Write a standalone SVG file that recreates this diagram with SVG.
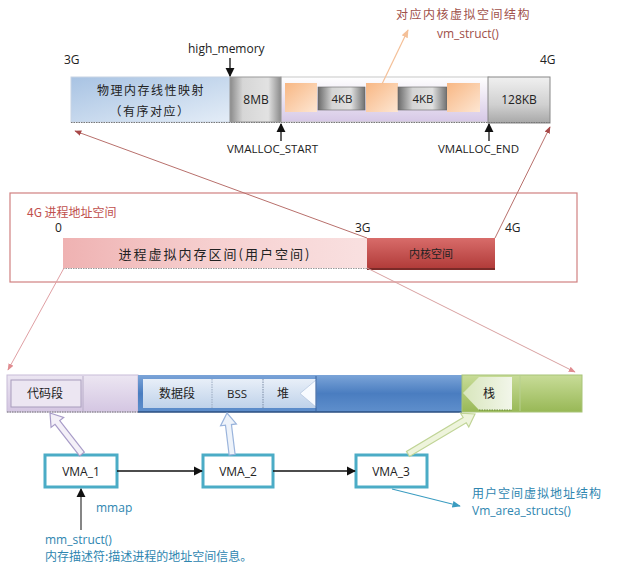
<svg xmlns="http://www.w3.org/2000/svg" width="620" height="579" viewBox="0 0 620 579">
<style>
text{font-family:"Open Sans","Liberation Sans","Noto Sans CJK SC",sans-serif;fill:#222;}
.cn{font-family:"Noto Sans CJK SC","Liberation Sans",sans-serif;}
.s12{font-size:12px;}
.s11{font-size:11.5px;}
.mid{text-anchor:middle;}
.red{fill:#c0504d;}
.brn{fill:#a0504a;}
.teal{fill:#2e86b0;}
.ln{stroke:#b8706c;stroke-width:1;fill:none;}
.blk{stroke:#111;stroke-width:1.3;fill:none;}
.vma rect{fill:#fff;stroke:#4bacc6;stroke-width:3;}
</style>
<defs>
<linearGradient id="gBlue" x1="0" y1="0" x2="1" y2="1"><stop offset="0" stop-color="#a8c3e3"/><stop offset="1" stop-color="#e4edf7"/></linearGradient>
<linearGradient id="gGray" x1="0" y1="0" x2="0" y2="1"><stop offset="0" stop-color="#f0f0f0"/><stop offset="0.6" stop-color="#d0d0d0"/><stop offset="1" stop-color="#a8a8a8"/></linearGradient>
<linearGradient id="gGrayH" x1="0" y1="0" x2="1" y2="0"><stop offset="0" stop-color="#8a8a8a"/><stop offset="0.25" stop-color="#d6d6d6"/><stop offset="0.75" stop-color="#e2e2e2"/><stop offset="1" stop-color="#8a8a8a"/></linearGradient>
<linearGradient id="g4kb" x1="0" y1="0" x2="1" y2="0"><stop offset="0" stop-color="#6a6a6a"/><stop offset="0.3" stop-color="#d4d4d4"/><stop offset="0.7" stop-color="#e0e0e0"/><stop offset="1" stop-color="#707070"/></linearGradient>
<linearGradient id="gLav" x1="0" y1="0" x2="0" y2="1"><stop offset="0" stop-color="#ffffff"/><stop offset="1" stop-color="#d6c8e6"/></linearGradient>
<linearGradient id="gOr" x1="0" y1="0" x2="1" y2="1"><stop offset="0" stop-color="#f8b784"/><stop offset="1" stop-color="#fde6d2"/></linearGradient>
<linearGradient id="gPink" x1="0" y1="0" x2="1" y2="0"><stop offset="0" stop-color="#efb2b2"/><stop offset="0.5" stop-color="#f6d0d0"/><stop offset="1" stop-color="#f9e0e0"/></linearGradient>
<linearGradient id="gKer" x1="0" y1="0" x2="0" y2="1"><stop offset="0" stop-color="#d86c6a"/><stop offset="1" stop-color="#b23c3a"/></linearGradient>
<linearGradient id="gBL" x1="0" y1="0" x2="0" y2="1"><stop offset="0" stop-color="#ece6f2"/><stop offset="1" stop-color="#d4c6e2"/></linearGradient>
<linearGradient id="gBB" x1="0" y1="0" x2="0" y2="1"><stop offset="0" stop-color="#7ba4d8"/><stop offset="0.5" stop-color="#4a7dc0"/><stop offset="1" stop-color="#5f8fcc"/></linearGradient>
<linearGradient id="gBI" x1="0" y1="0" x2="0" y2="1"><stop offset="0" stop-color="#e8eff8"/><stop offset="1" stop-color="#bfd2ea"/></linearGradient>
<linearGradient id="gGr" x1="0" y1="0" x2="0" y2="1"><stop offset="0" stop-color="#c8dc98"/><stop offset="1" stop-color="#98b856"/></linearGradient>
<linearGradient id="gGI" x1="0" y1="0" x2="1" y2="0"><stop offset="0" stop-color="#d8e6bc"/><stop offset="1" stop-color="#f2f6ea"/></linearGradient>
<marker id="mB" viewBox="0 0 10 10" refX="9" refY="5" markerWidth="7" markerHeight="7" orient="auto"><path d="M0,0L10,5L0,10z" fill="#111"/></marker>
<marker id="mR" viewBox="0 0 10 10" refX="9" refY="5" markerWidth="7" markerHeight="7" orient="auto"><path d="M0,1L10,5L0,9z" fill="#a84848"/></marker>
<marker id="mP" viewBox="0 0 10 10" refX="9" refY="5" markerWidth="7" markerHeight="7" orient="auto"><path d="M0,1L10,5L0,9z" fill="#e08c90"/></marker>
<marker id="mO" viewBox="0 0 10 10" refX="9" refY="5" markerWidth="7" markerHeight="7" orient="auto"><path d="M0,1L10,5L0,9z" fill="#f4c098"/></marker>
<marker id="mT" viewBox="0 0 10 10" refX="9" refY="5" markerWidth="7" markerHeight="7" orient="auto"><path d="M0,1L10,5L0,9z" fill="#3a9cc0"/></marker>
<polygon id="hollow" points="0,0 7,11 3,11 3,0 -3,0 -3,11 -7,11"/>
</defs>

<!-- Top physical memory bar -->
<g id="top-bar">
<rect x="281" y="77" width="208" height="45" fill="url(#gLav)" stroke="#c8c8c8"/>
<g id="phys-linear"><rect x="71" y="77" width="159" height="45" fill="url(#gBlue)" stroke="#c8d4e4"/>
<text class="cn s12 mid" x="151" y="95" fill="#444" letter-spacing="1.5">物理内存线性映射</text>
<text class="cn s12 mid" x="150" y="116" letter-spacing="1.5">（有序对应）</text></g>
<g id="gap-8mb"><rect x="230" y="77" width="51" height="45" fill="url(#gGrayH)" stroke="#999"/>
<text class="s12 mid" x="256" y="104">8MB</text></g>
<rect x="285" y="83" width="32" height="29" fill="url(#gOr)"/>
<g id="page1"><rect x="318" y="87" width="47" height="23" fill="url(#g4kb)" stroke="#666" stroke-width="0.6"/><text class="s11 mid" x="342" y="103">4KB</text></g>
<rect x="366" y="83" width="32" height="29" fill="url(#gOr)"/>
<g id="page2"><rect x="398" y="87" width="49" height="23" fill="url(#g4kb)" stroke="#666" stroke-width="0.6"/><text class="s11 mid" x="423" y="103">4KB</text></g>
<rect x="447" y="83" width="33" height="29" fill="url(#gOr)"/>
<g id="gap-128kb"><rect x="488" y="77" width="62" height="46" fill="url(#gGray)" stroke="#888"/>
<text class="s12 mid" x="519" y="104">128KB</text></g>
<line x1="71" y1="122.5" x2="550" y2="122.5" stroke="#777" stroke-dasharray="1.5,1"/>
<text class="s12" x="64" y="64">3G</text>
<text class="s12" x="540" y="64">4G</text>
<text class="s12" x="188" y="53">high_memory</text>
<text class="s11" x="227" y="153">VMALLOC_START</text>
<text class="s11" x="438" y="153">VMALLOC_END</text>
<text class="cn s12 brn" x="396" y="19" letter-spacing="1.5">对应内核虚拟空间结构</text>
<text class="s12 brn" x="437" y="38">vm_struct()</text>
</g>

<!-- Middle process address space -->
<g id="proc-space">
<rect x="10" y="193" width="567" height="89" fill="none" stroke="#d08080" stroke-width="1.2"/>
<text class="cn s12 red" x="27" y="217">4G 进程地址空间</text>
<text class="s12" x="55" y="232">0</text>
<text class="s12" x="355" y="232">3G</text>
<text class="s12" x="505" y="232">4G</text>
<g id="user-space"><rect x="63" y="238" width="304" height="30" fill="url(#gPink)"/>
<line x1="63" y1="268.5" x2="367" y2="268.5" stroke="#999" stroke-dasharray="1.5,1"/>
<text class="cn mid" x="215" y="259" font-size="13" fill="#a04848" letter-spacing="2">进程虚拟内存区间(用户空间)</text></g>
<g id="kernel-space"><rect x="367" y="238" width="128" height="30" fill="url(#gKer)"/>
<line x1="367" y1="269" x2="495" y2="269" stroke="#7a2a28" stroke-width="2"/>
<text class="cn mid" x="431" y="258" font-size="11" fill="#f6dada">内核空间</text></g>
</g>

<!-- Bottom user space layout -->
<g id="vma-bar">
<rect x="7" y="375" width="131" height="37" fill="url(#gBL)" stroke="#c8bcd8"/>
<g id="code"><rect x="11" y="380" width="70" height="27" fill="#ece6f2" stroke="#a89cbc"/>
<text class="cn s12 mid" x="45" y="398">代码段</text></g>
<line x1="83" y1="376" x2="83" y2="411" stroke="#b8aec8"/>
<line x1="7" y1="412" x2="138" y2="412" stroke="#777" stroke-dasharray="1.5,1"/>
<rect x="138" y="375" width="324" height="37" fill="url(#gBB)"/>
<line x1="138" y1="412" x2="462" y2="412" stroke="#2a4e80" stroke-width="1.5"/>
<g id="data"><rect x="143" y="379" width="69" height="29" fill="url(#gBI)"/>
<text class="cn s12 mid" x="177" y="398">数据段</text></g>
<g id="bss"><rect x="212" y="379" width="51" height="29" fill="url(#gBI)"/>
<line x1="212" y1="379" x2="212" y2="408" stroke="#9aaac0" stroke-dasharray="1.5,1"/>
<text class="s11 mid" x="237" y="398">BSS</text></g>
<g id="heap"><rect x="263" y="379" width="53" height="29" fill="url(#gBI)"/>
<line x1="263" y1="379" x2="263" y2="408" stroke="#7c8ca6" stroke-dasharray="1.5,1"/>
<polygon points="300,393.5 316,380 316,407" fill="#f8fbff" stroke="#a8bcd8" stroke-width="0.6"/>
<line x1="316" y1="376" x2="316" y2="411" stroke="#3a64a0"/>
<text class="cn s12 mid" x="283" y="398">堆</text></g>
<rect x="462" y="375" width="120" height="37" fill="url(#gGr)" stroke="#a8c478"/>
<g id="stack"><polygon points="463,393 479,377 512,377 512,410 479,410" fill="url(#gGI)"/>
<line x1="479" y1="410" x2="512" y2="410" stroke="#6a8a3a" stroke-dasharray="1.5,1"/>
<line x1="520" y1="376" x2="520" y2="411" stroke="#b8d090"/>
<text class="cn s12 mid" x="489" y="398">栈</text></g>
</g>

<!-- VMA nodes -->
<g id="vma1" class="vma"><rect x="45" y="455" width="72" height="32"/><text class="s12 mid" x="81" y="476">VMA_1</text></g>
<g id="vma2" class="vma"><rect x="203" y="455" width="70" height="32"/><text class="s12 mid" x="238" y="476">VMA_2</text></g>
<g id="vma3" class="vma"><rect x="356" y="455" width="71" height="32"/><text class="s12 mid" x="391" y="476">VMA_3</text></g>

<g id="labels">
<text class="s12 teal" x="96" y="512">mmap</text>
<text class="s12 teal" x="45" y="544">mm_struct()</text>
<text class="cn s12 teal" x="45" y="561">内存描述符:描述进程的地址空间信息。</text>
<text class="cn s12 teal" x="472" y="498" letter-spacing="1">用户空间虚拟地址结构</text>
<text class="s12 teal" x="472" y="515">Vm_area_structs()</text>
</g>

<!-- Connectors -->
<g id="connectors">
<line class="blk" x1="230" y1="58" x2="230" y2="76" marker-end="url(#mB)"/>
<line class="blk" x1="281" y1="141" x2="281" y2="124" marker-end="url(#mB)"/>
<line class="blk" x1="489" y1="141" x2="489" y2="124" marker-end="url(#mB)"/>
<line x1="382" y1="84" x2="408" y2="30" stroke="#f4c098" stroke-width="1.2" marker-end="url(#mO)"/>
<line class="ln" x1="367" y1="238" x2="75" y2="131" marker-end="url(#mR)"/>
<line class="ln" x1="495" y1="238" x2="550" y2="127" marker-end="url(#mR)"/>
<line x1="64" y1="268" x2="8" y2="370" stroke="#e0a0a4" stroke-width="1" marker-end="url(#mP)"/>
<line x1="367" y1="268" x2="575" y2="372" stroke="#d8a0a0" stroke-width="1" marker-end="url(#mP)"/>
<line class="blk" x1="117" y1="471" x2="202" y2="471" marker-end="url(#mB)"/>
<line class="blk" x1="273" y1="471" x2="355" y2="471" marker-end="url(#mB)"/>
<line x1="81" y1="530" x2="81" y2="489" stroke="#444" stroke-width="1.3" marker-end="url(#mB)"/>
<line x1="392" y1="489" x2="460" y2="506" stroke="#3a9cc0" stroke-width="1.2" marker-end="url(#mT)"/>
<g transform="translate(50,413) rotate(-37.9)"><polygon points="0,0 8,12 3,12 3,52 -3,52 -3,12 -8,12" fill="#f4f0f8" stroke="#a89cc8" stroke-width="1.2"/></g>
<g transform="translate(227,413) rotate(-7)"><polygon points="0,0 8,12 3,12 3,42 -3,42 -3,12 -8,12" fill="#eef3fa" stroke="#9ab4dc" stroke-width="1.2"/></g>
<g transform="translate(475,414) rotate(59.2)"><polygon points="0,0 8,12 3,12 3,78 -3,78 -3,12 -8,12" fill="#eef4dc" stroke="#c0d496" stroke-width="1.2"/></g>
</g>
</svg>
